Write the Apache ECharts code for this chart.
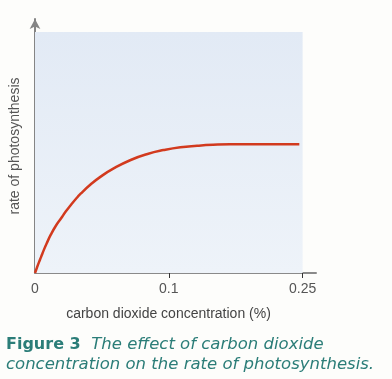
<!DOCTYPE html>
<html>
<head>
<meta charset="utf-8">
<script src="https://cdn.jsdelivr.net/npm/echarts@6/dist/echarts.min.js"></script>
<style>
html,body{margin:0;padding:0;background:#fdfdfb;}
#c{width:392px;height:379px;}
</style>
</head>
<body>
<div id="c"></div>
<script>
// CO2 concentration (%) and rate of photosynthesis (arbitrary units)
const concentration = [0, 0.0015, 0.0030, 0.0045, 0.0067, 0.0089, 0.0119, 0.0156, 0.0194, 0.0231, 0.0268, 0.0305, 0.0343, 0.0417, 0.0491, 0.0588, 0.0715, 0.0841, 0.0960, 0.113, 0.1317, 0.1497, 0.1686, 0.2463];
const rate          = [0, 2.3, 4.5, 6.6, 9.7, 12.5, 16.0, 19.6, 22.6, 25.6, 28.2, 30.7, 33.0, 36.8, 40.0, 43.4, 46.9, 49.4, 51.0, 52.2, 52.8, 53.2, 53.4, 53.4];
// tick labels (the axis is drawn with equal spacing between the ticks)
const tickValues = [0, 0.1, 0.25];
const tickLabels = ['0', '0.1', '0.25'];
const xName = 'carbon dioxide concentration (%)';
const yName = 'rate of photosynthesis';
const captionBold = 'Figure 3';
const captionLine1 = 'The effect of carbon dioxide';
const captionLine2 = 'concentration on the rate of photosynthesis.';

// piecewise position on the axis: tick i sits at position i
function toPos(c) {
  for (let i = 0; i < tickValues.length - 1; i++) {
    if (c <= tickValues[i + 1]) {
      return i + (c - tickValues[i]) / (tickValues[i + 1] - tickValues[i]);
    }
  }
  return tickValues.length - 1;
}
const seriesData = concentration.map((c, i) => [toPos(c), rate[i]]);
const tickPos = tickValues.map((_, i) => i);

const chart = echarts.init(document.getElementById('c'));
const teal = '#2b7d78';
chart.setOption({
  backgroundColor: '#fdfdfb',
  animation: false,
  grid: {left: 34, right: 76, top: 19, bottom: 106},
  xAxis: {
    type: 'value', min: 0, max: 2.1,
    name: xName, nameLocation: 'middle', nameGap: 34,
    nameTextStyle: {fontFamily: 'Liberation Sans', fontSize: 14, color: '#444', padding: [0, 14, 0, 0]},
    axisLine: {show: true, lineStyle: {color: '#8a8a8a', width: 2}},
    axisTick: {show: true, customValues: tickPos.slice(1), length: 5, inside: false, lineStyle: {color: '#333', width: 1}},
    axisLabel: {customValues: tickPos, formatter: v => tickLabels[Math.round(v)] ?? '', fontFamily: 'Liberation Sans', fontSize: 14, color: '#555', margin: 9},
    splitLine: {show: false}
  },
  yAxis: {
    type: 'value', min: 0, max: 105.4,
    name: yName, nameLocation: 'middle', nameGap: 13, nameRotate: 90,
    nameTextStyle: {fontFamily: 'Liberation Sans', fontSize: 14, color: '#555'},
    axisLine: {show: true, symbol: ['none', 'arrow'], symbolSize: [8, 10], lineStyle: {color: '#858585', width: 2}},
    axisTick: {show: false},
    axisLabel: {show: false},
    splitLine: {show: false}
  },
  series: [{
    type: 'line',
    data: seriesData,
    smooth: 0.5,
    showSymbol: false,
    lineStyle: {color: '#d23a1e', width: 2.5},
    z: 3,
    markArea: {
      silent: true,
      itemStyle: {
        color: new echarts.graphic.LinearGradient(0, 0, 0, 1, [
          {offset: 0, color: '#e2eaf5'},
          {offset: 1, color: '#eef3f9'}
        ])
      },
      data: [[{coord: [0, 0]}, {coord: [2, 100]}]]
    }
  }],
  graphic: [
    {type: 'text', left: 6, top: 336, style: {
      rich: {
        b: {fontFamily: 'DejaVu Sans', fontWeight: 'bold', fontSize: 16, fill: teal},
        i: {fontFamily: 'DejaVu Sans', fontStyle: 'italic', fontSize: 16.5, fill: teal}
      },
      text: '{b|' + captionBold + '}{i|  ' + captionLine1 + '}'
    }},
    {type: 'text', left: 6, top: 356, style: {
      text: captionLine2, fontFamily: 'DejaVu Sans', fontStyle: 'italic', fontSize: 16.5, fill: teal
    }}
  ]
});
</script>
</body>
</html>
